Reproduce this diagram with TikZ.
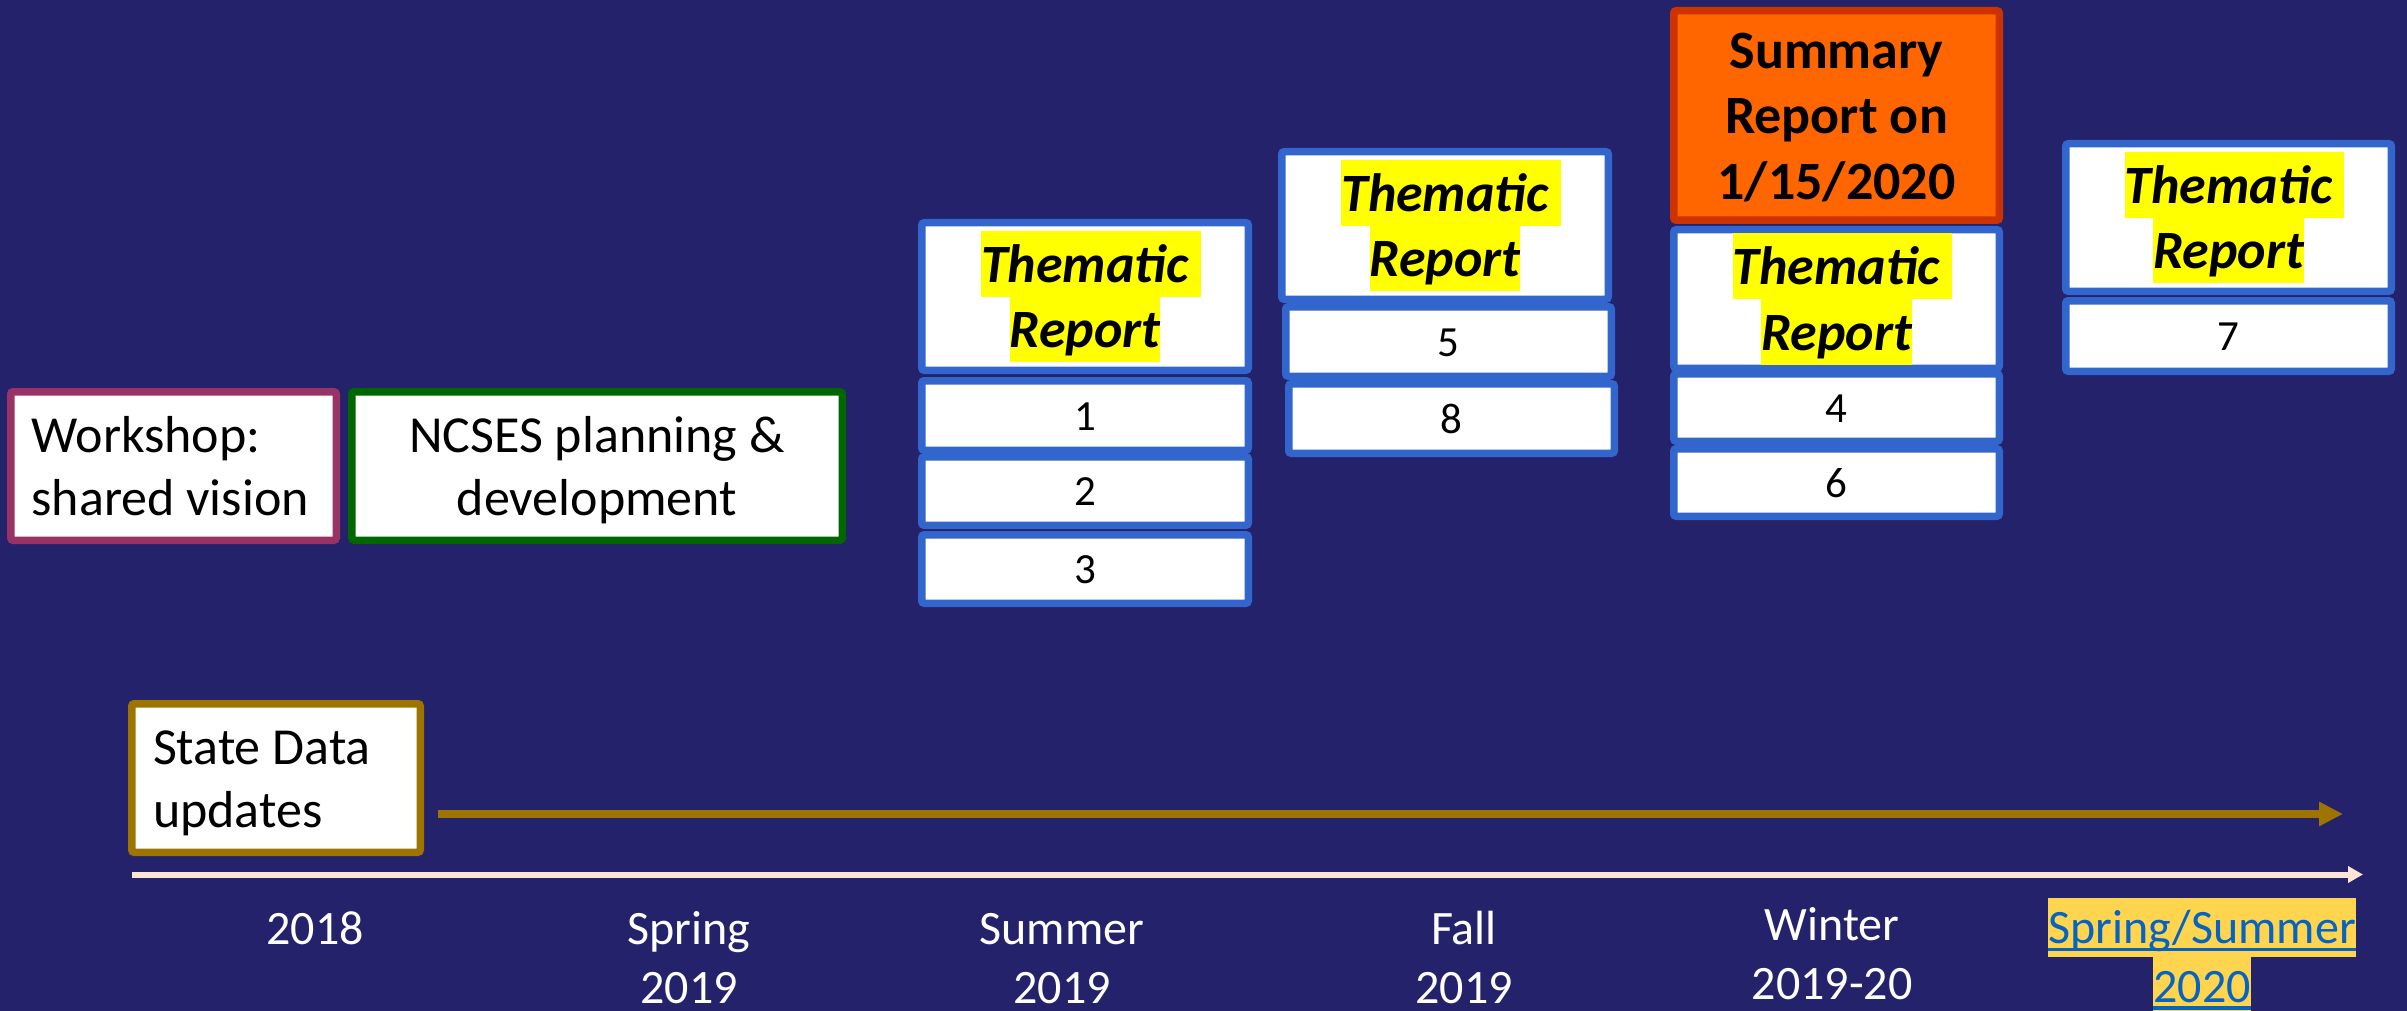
\documentclass[tikz,border=0pt]{standalone}
\usepackage{fontspec}
\setmainfont{Carlito}
\usetikzlibrary{arrows.meta}
\definecolor{bg}{HTML}{23226B}
\definecolor{boxblue}{HTML}{3366CC}
\definecolor{wsborder}{HTML}{993366}
\definecolor{ncgreen}{HTML}{006600}
\definecolor{gold}{HTML}{9E7400}
\definecolor{sumorange}{HTML}{FF6600}
\definecolor{sumborder}{HTML}{CC3300}
\definecolor{hly}{HTML}{FFFF00}
\definecolor{hlsoft}{HTML}{FFD550}
\definecolor{tlcol}{HTML}{FBE5D6}
\definecolor{linkblue}{HTML}{0563C1}
\lineskiplimit=-100pt
\newcommand\cs{\rule[-0.268em]{0pt}{1.22em}}
\newcommand\hlc[2]{{\setlength\fboxsep{0pt}\colorbox{#1}{\cs #2}}}
\newcommand\hlt[1]{\hlc{hly}{#1}}
\newcommand\hlts[1]{\hlt{#1}\rlap{\hlc{hly}{\ }}}
\newsavebox\ulbox
\newcommand\ulink[1]{\sbox\ulbox{#1}\rlap{\rule[-0.15em]{\wd\ulbox}{0.07em}}\usebox\ulbox}
\newcommand\lline[2]{\makebox[#1][l]{\cs #2}}
\tikzset{
  box/.style={draw, line width=7.5pt, fill=white, rounded corners=2.5pt, inner sep=0pt, align=center, text=black},
  bluebox/.style={box, draw=boxblue},
  thfont/.style={font=\fontsize{54}{65.88}\selectfont\bfseries\itshape},
  numfont/.style={font=\fontsize{43}{52.46}\selectfont},
  txtfont/.style={font=\fontsize{52}{63.44}\selectfont},
  lblfont/.style={font=\fontsize{48}{58.56}\selectfont, anchor=north, inner sep=0pt, align=center},
}
\begin{document}
\begin{tikzpicture}[x=1pt, y=-1pt]
\useasboundingbox (0,0) rectangle (2407,1011);
\fill[bg] (0,0) rectangle (2407,1011);

% left boxes
\node[box, draw=wsborder, txtfont, minimum width=325.5pt, minimum height=148.5pt] (ws) at (173.5,466) {\lline{284pt}{Workshop:}\\\lline{284pt}{shared vision}};
\node[box, draw=ncgreen, txtfont, minimum width=490.5pt, minimum height=148.5pt] (ncses) at (597,466) {\cs NCSES planning \&\\\cs development};
\node[box, draw=gold, txtfont, minimum width=288.5pt, minimum height=148.5pt] (state) at (276,778) {\lline{246pt}{State Data}\\\lline{246pt}{updates}};

% column 1: Summer 2019
\node[bluebox, thfont, minimum width=326.5pt, minimum height=147.5pt] (th1) at (1085,296.5) {\hlts{Thematic}\\\hlt{Report}};
\node[bluebox, numfont, minimum width=326.5pt, minimum height=69.5pt] (n1) at (1085,415.5) {\cs 1};
\node[bluebox, numfont, minimum width=326.5pt, minimum height=68.5pt] (n2) at (1085,491) {\cs 2};
\node[bluebox, numfont, minimum width=326.5pt, minimum height=68.5pt] (n3) at (1085,569) {\cs 3};

% column 2: Fall 2019
\node[bluebox, thfont, minimum width=326.5pt, minimum height=147.5pt] (th2) at (1445,225.5) {\hlts{Thematic}\\\hlt{Report}};
\node[bluebox, numfont, minimum width=325.5pt, minimum height=69.5pt] (n5) at (1448.5,341.5) {\cs 5};
\node[bluebox, numfont, minimum width=325.5pt, minimum height=69.5pt] (n8) at (1451.5,418.5) {\cs 8};

% column 3: Winter 2019-20
\node[box, draw=sumborder, fill=sumorange, font=\fontsize{54}{65.88}\selectfont\bfseries, minimum width=325.5pt, minimum height=209.5pt] (sum) at (1836.5,115.5) {\cs Summary\\\cs Report on\\\cs 1/15/2020};
\node[bluebox, thfont, minimum width=325.5pt, minimum height=138.5pt] (th3) at (1836.5,299) {\hlts{Thematic}\\\hlt{Report}};
\node[bluebox, numfont, minimum width=325.5pt, minimum height=67.5pt] (n4) at (1836.5,407.5) {\cs 4};
\node[bluebox, numfont, minimum width=325.5pt, minimum height=67.5pt] (n6) at (1836.5,482.5) {\cs 6};

% column 4: Spring/Summer 2020
\node[bluebox, thfont, minimum width=325.5pt, minimum height=147.5pt] (th4) at (2228.5,217.5) {\hlts{Thematic}\\\hlt{Report}};
\node[bluebox, numfont, minimum width=325.5pt, minimum height=70.5pt] (n7) at (2228.5,336) {\cs 7};

% arrows
\coordinate (gs) at (438,814);
\coordinate (ge) at (2343,814);
\draw[gold, line width=7.5pt, -{Triangle[length=24pt,width=23pt]}] (gs) -- (ge);
\coordinate (ts) at (132,874.5);
\coordinate (te) at (2363,874.5);
\draw[tlcol, line width=6pt, -{Triangle[length=15pt,width=16pt]}] (ts) -- (te);

% timeline labels
\node[lblfont, text=white] (l2018) at (315,899) {\cs 2018};
\node[lblfont, text=white] (lspr) at (689,899) {\cs Spring\\\cs 2019};
\node[lblfont, text=white] (lsum) at (1062,899) {\cs Summer\\\cs 2019};
\node[lblfont, text=white] (lfall) at (1464,899) {\cs Fall\\\cs 2019};
\node[lblfont, text=white] (lwin) at (1832,895) {\cs Winter\\\cs 2019-20};
\node[lblfont, text=linkblue] (lss) at (2202,898) {\hlc{hlsoft}{\ulink{Spring/Summer}}\\\hlc{hlsoft}{\ulink{2020}}};
\end{tikzpicture}
\end{document}
